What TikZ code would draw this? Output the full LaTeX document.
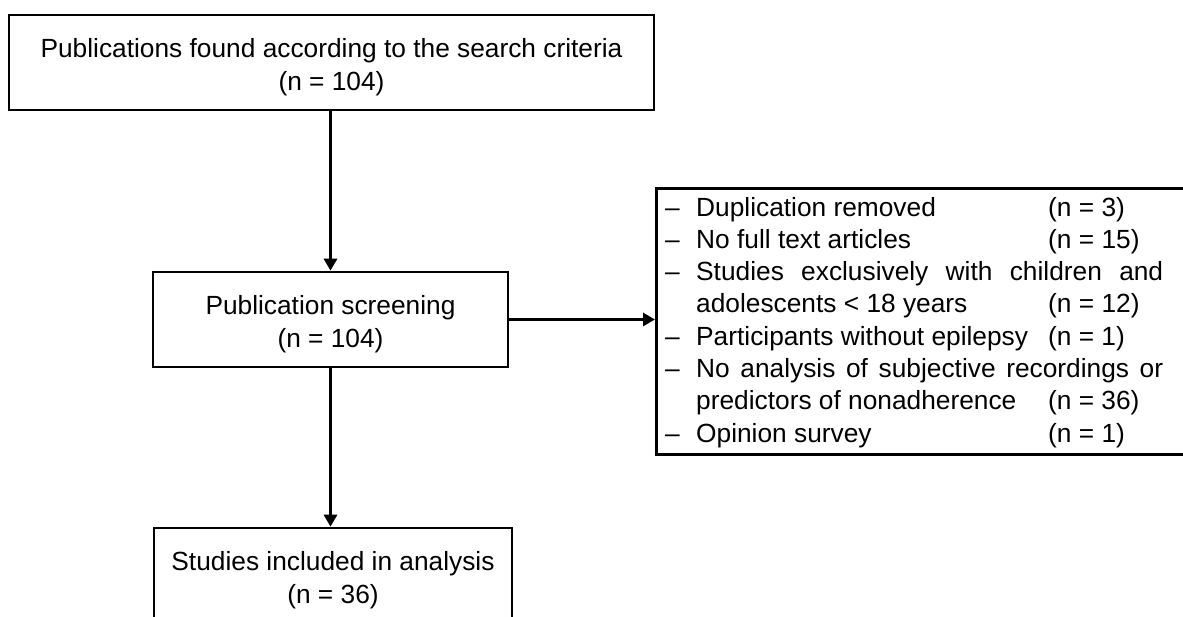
\documentclass[tikz,border=0pt]{standalone}
\usepackage{fontspec}
\setmainfont{Liberation Sans}
\usetikzlibrary{arrows.meta}
\newcommand\dashline[2]{\makebox[31pt][l]{–}\makebox[352pt][l]{#1}#2}
\newcommand\dashjust[1]{\makebox[31pt][l]{–}\makebox[467pt][s]{#1}}
\newcommand\contline[2]{\hspace*{31pt}\makebox[352pt][l]{#1}#2}
\newcommand\lowstrut{\rule{0pt}{28pt}}
\begin{document}
\begin{tikzpicture}[x=1pt,y=-1pt,
  box/.style={draw, line width=2.6pt, align=center, inner sep=0pt,
    font=\fontsize{26.3}{33.5}\selectfont},
  arr/.style={line width=3.4pt, -{Triangle[length=12pt,width=13pt]}}]
\useasboundingbox (0,0) rectangle (1183,617);
\clip (0,0) rectangle (1183,617);
\node[box, minimum width=645pt, minimum height=95pt] (top) at (331.5,62.5)
  {\lowstrut Publications found according to the search criteria\\(n = 104)};
\node[box, minimum width=355pt, minimum height=95pt] (mid) at (330.5,319.5)
  {\lowstrut Publication screening\\(n = 104)};
\node[box, minimum width=358pt, minimum height=95pt] (bot) at (333,575.5)
  {\lowstrut Studies included in analysis\\(n = 36)};
\node[draw, line width=2.6pt, minimum width=600pt, minimum height=266pt,
  anchor=north west, inner sep=0pt] (excl) at (655,187) {};
\node[anchor=west, inner sep=0pt, align=left,
  font=\fontsize{26.3}{32.3}\selectfont] (excltxt) at ([xshift=10pt,yshift=-1pt]excl.west)
  {\dashline{Duplication removed}{(n = 3)}\\
   \dashline{No full text articles}{(n = 15)}\\
   \dashjust{Studies exclusively with children and}\\
   \contline{adolescents < 18 years}{(n = 12)}\\
   \dashline{Participants without epilepsy}{(n = 1)}\\
   \dashjust{No analysis of subjective recordings or}\\
   \contline{predictors of nonadherence}{(n = 36)}\\
   \dashline{Opinion survey}{(n = 1)}};
\draw[arr] (mid.north |- top.south) -- (mid.north);
\draw[arr] (mid.east) -- (mid.east -| excl.west);
\draw[arr] (mid.south) -- (mid.south |- bot.north);
\end{tikzpicture}
\end{document}
